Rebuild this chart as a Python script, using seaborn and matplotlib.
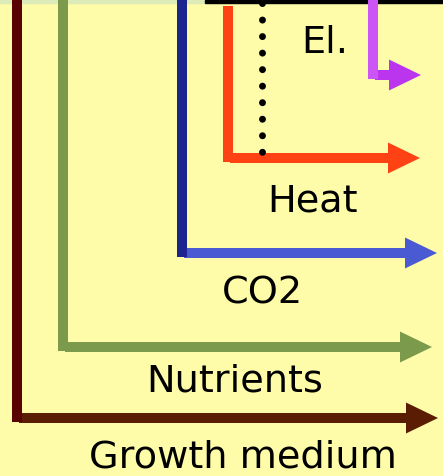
import matplotlib
matplotlib.use("Agg")
import matplotlib.pyplot as plt
import seaborn as sns
import pandas as pd

# flows, from outermost to innermost (coords in image pixels)
flows = ["Growth medium", "Nutrients", "CO2", "Heat", "El."]
x_vert = [17, 63, 182, 228, 373]
y_top = [0, 0, 0, 6, 0]
y_horiz = [418, 347, 253, 158, 75]
x_tip = [438, 432, 437, 420, 421]
label_x = [243, 235, 263, 313, 325]
label_y = [458, 381, 293, 201, 43]
vert_colors = ["#580202", "#7B9A4C", "#1C2490", "#FF4214", "#CC55F6"]
horiz_colors = ["#5A1C02", "#7B9A4C", "#4A5AD2", "#FF4214", "#BB35EE"]

# dotted divider
dot_x = 262
dot_y = [3, 165]

W, H = 443, 476

sns.set_theme(style="white")
plt.rcParams['font.family'] = ['DejaVu Sans']

fig = plt.figure(figsize=(W / 100, H / 100), dpi=100)
ax = fig.add_axes([0, 0, 1, 1])
ax.set_xlim(0, W)
ax.set_ylim(H, 0)
ax.set_facecolor("#FEFBA9")
ax.axis("off")
fig.patch.set_facecolor("#FEFBA9")

# top edge strip
ax.axhspan(0, 3, xmin=0, xmax=205 / W, color="#DDEBB8")
ax.axhspan(0, 3, xmin=205 / W, xmax=1, color="black")

lw = 10 * 72 / 100
for i, name in enumerate(flows):
    seg = pd.DataFrame({"x": [x_vert[i], x_vert[i]],
                        "y": [y_top[i], y_horiz[i] + 4]})
    sns.lineplot(data=seg, x="x", y="y", sort=False, estimator=None,
                 color=vert_colors[i], lw=lw, ax=ax, solid_capstyle="butt")
    ax.arrow(x_vert[i] + 2, y_horiz[i], x_tip[i] - x_vert[i] - 2, 0,
             width=10, head_width=31, head_length=32,
             length_includes_head=True, color=horiz_colors[i], lw=0)
    ax.text(label_x[i], label_y[i], name, ha="center", va="center",
            fontsize=27.5, color="black")

ax.plot([dot_x, dot_x], dot_y, color="black", lw=5,
        linestyle=(0, (0.01, 2.37)), dash_capstyle="round")

fig.savefig("out.png", dpi=100, facecolor=fig.get_facecolor())
